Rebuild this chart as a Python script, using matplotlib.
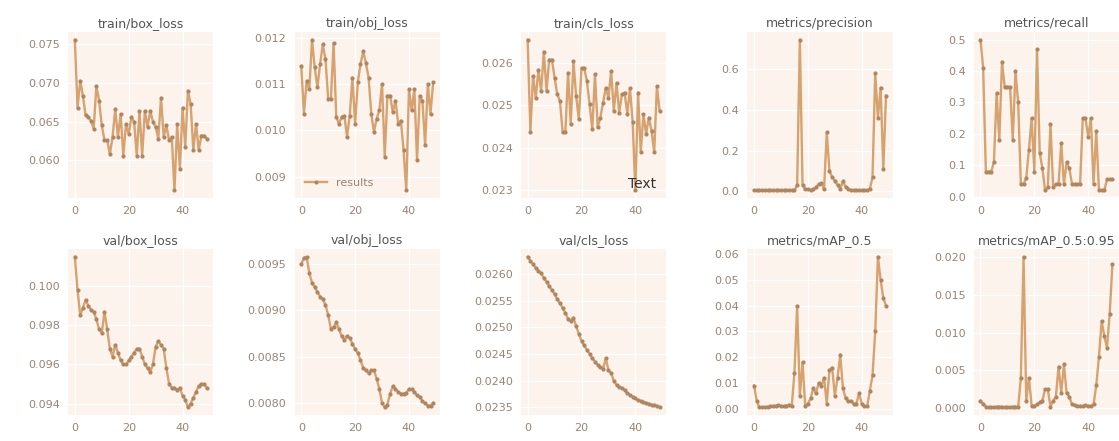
import matplotlib
matplotlib.use('Agg')
import matplotlib.pyplot as plt
import numpy as np

epochs = np.arange(50)

titles = ['train/box_loss', 'train/obj_loss', 'train/cls_loss', 'metrics/precision', 'metrics/recall',
          'val/box_loss', 'val/obj_loss', 'val/cls_loss', 'metrics/mAP_0.5', 'metrics/mAP_0.5:0.95']

train_box_loss = [0.0756, 0.0668, 0.0703, 0.0683, 0.0658, 0.0656, 0.0651, 0.0641, 0.0696, 0.0677,
                  0.0645, 0.0626, 0.0626, 0.0608, 0.0630, 0.0666, 0.0630, 0.0660, 0.0606, 0.0647,
                  0.0634, 0.0656, 0.0650, 0.0606, 0.0664, 0.0606, 0.0664, 0.0643, 0.0664, 0.0650,
                  0.0643, 0.0628, 0.0681, 0.0630, 0.0645, 0.0626, 0.0630, 0.0561, 0.0647, 0.0589,
                  0.0668, 0.0617, 0.0690, 0.0673, 0.0613, 0.0647, 0.0613, 0.0632, 0.0632, 0.0628]

train_obj_loss = [0.01139, 0.01036, 0.01107, 0.01089, 0.01196, 0.01136, 0.01093, 0.01143, 0.01186, 0.01154,
                  0.01068, 0.01068, 0.01189, 0.01029, 0.01014, 0.01029, 0.01032, 0.00986, 0.01032, 0.01114,
                  0.01014, 0.01104, 0.01143, 0.01171, 0.01146, 0.01114, 0.01036, 0.00996, 0.01025, 0.01043,
                  0.01100, 0.00943, 0.01075, 0.01075, 0.01039, 0.01064, 0.01014, 0.01021, 0.00957, 0.00870,
                  0.01089, 0.01043, 0.01089, 0.00936, 0.01075, 0.01064, 0.00968, 0.01100, 0.01036, 0.01104]

train_cls_loss = [0.02655, 0.02436, 0.02569, 0.02518, 0.02584, 0.02534, 0.02627, 0.02534, 0.02608, 0.02608,
                  0.02565, 0.02526, 0.02510, 0.02436, 0.02436, 0.02577, 0.02455, 0.02604, 0.02522, 0.02467,
                  0.02588, 0.02588, 0.02557, 0.02502, 0.02444, 0.02573, 0.02448, 0.02471, 0.02506, 0.02541,
                  0.02518, 0.02580, 0.02487, 0.02553, 0.02483, 0.02526, 0.02530, 0.02480, 0.02540, 0.02460,
                  0.02299, 0.02530, 0.02389, 0.02479, 0.02432, 0.02471, 0.02440, 0.02389, 0.02545, 0.02487]

precision = [0.005, 0.004, 0.004, 0.004, 0.004, 0.004, 0.004, 0.004, 0.004, 0.004,
             0.004, 0.004, 0.004, 0.004, 0.004, 0.004, 0.030, 0.745, 0.030, 0.010,
             0.010, 0.005, 0.010, 0.020, 0.035, 0.040, 0.010, 0.290, 0.100, 0.070,
             0.050, 0.030, 0.010, 0.050, 0.020, 0.010, 0.005, 0.005, 0.005, 0.005,
             0.005, 0.005, 0.005, 0.010, 0.070, 0.580, 0.360, 0.510, 0.110, 0.470]

recall = [0.50, 0.41, 0.08, 0.08, 0.08, 0.11, 0.33, 0.18, 0.43, 0.35,
          0.35, 0.35, 0.18, 0.40, 0.30, 0.04, 0.04, 0.06, 0.15, 0.25,
          0.08, 0.47, 0.14, 0.09, 0.02, 0.03, 0.23, 0.03, 0.04, 0.04,
          0.17, 0.04, 0.11, 0.09, 0.04, 0.04, 0.04, 0.04, 0.25, 0.25,
          0.19, 0.25, 0.04, 0.21, 0.02, 0.02, 0.02, 0.055, 0.055, 0.055]

val_box_loss = [0.1015, 0.0998, 0.0985, 0.0989, 0.0993, 0.0990, 0.0988, 0.0987, 0.0983, 0.0978,
                0.0976, 0.0987, 0.0978, 0.0968, 0.0964, 0.0970, 0.0966, 0.0962, 0.0960, 0.0960,
                0.0962, 0.0964, 0.0966, 0.0968, 0.0968, 0.0964, 0.0960, 0.0958, 0.0956, 0.0960,
                0.0969, 0.0972, 0.0970, 0.0968, 0.0958, 0.0950, 0.0948, 0.0948, 0.0947, 0.0948,
                0.0944, 0.0942, 0.0938, 0.0940, 0.0943, 0.0946, 0.0949, 0.0950, 0.0950, 0.0948]

val_obj_loss = [0.00950, 0.00957, 0.00958, 0.00940, 0.00930, 0.00925, 0.00920, 0.00915, 0.00912, 0.00906,
                0.00895, 0.00880, 0.00882, 0.00887, 0.00880, 0.00872, 0.00868, 0.00872, 0.00870, 0.00864,
                0.00858, 0.00854, 0.00846, 0.00838, 0.00835, 0.00832, 0.00835, 0.00835, 0.00826, 0.00815,
                0.00800, 0.00795, 0.00798, 0.00810, 0.00818, 0.00815, 0.00812, 0.00810, 0.00810, 0.00811,
                0.00815, 0.00815, 0.00812, 0.00808, 0.00806, 0.00802, 0.00800, 0.00797, 0.00797, 0.00800]

val_cls_loss = [0.02632, 0.02625, 0.02618, 0.02611, 0.02606, 0.02601, 0.02592, 0.02585, 0.02577, 0.02569,
                0.02562, 0.02553, 0.02545, 0.02536, 0.02527, 0.02516, 0.02512, 0.02518, 0.02502, 0.02488,
                0.02474, 0.02466, 0.02458, 0.02450, 0.02442, 0.02436, 0.02430, 0.02426, 0.02422, 0.02442,
                0.02420, 0.02414, 0.02400, 0.02392, 0.02389, 0.02386, 0.02382, 0.02377, 0.02373, 0.02370,
                0.02367, 0.02364, 0.02362, 0.02360, 0.02358, 0.02357, 0.02355, 0.02354, 0.02353, 0.02350]

map_05 = [0.009, 0.003, 0.0005, 0.0005, 0.0005, 0.0008, 0.0010, 0.0010, 0.0012, 0.0015,
          0.0010, 0.0010, 0.0012, 0.0015, 0.0010, 0.014, 0.040, 0.005, 0.018, 0.001,
          0.002, 0.004, 0.008, 0.006, 0.010, 0.009, 0.012, 0.002, 0.015, 0.016,
          0.005, 0.012, 0.021, 0.008, 0.004, 0.003, 0.003, 0.002, 0.002, 0.006,
          0.002, 0.001, 0.001, 0.007, 0.013, 0.030, 0.059, 0.050, 0.043, 0.040]

map_05_095 = [0.0010, 0.0006, 0.0002, 0.0001, 0.0001, 0.0001, 0.0002, 0.0002, 0.0002, 0.0001,
              0.0001, 0.0001, 0.0002, 0.0002, 0.0001, 0.0040, 0.0200, 0.0010, 0.0040, 0.0003,
              0.0003, 0.0005, 0.0008, 0.0010, 0.0025, 0.0025, 0.0002, 0.0010, 0.0015, 0.0055,
              0.0020, 0.0058, 0.0020, 0.0015, 0.0005, 0.0004, 0.0003, 0.0003, 0.0003, 0.0004,
              0.0003, 0.0003, 0.0005, 0.0030, 0.0068, 0.0115, 0.0095, 0.0080, 0.0125, 0.0190]

series = [train_box_loss, train_obj_loss, train_cls_loss, precision, recall,
          val_box_loss, val_obj_loss, val_cls_loss, map_05, map_05_095]

plt.rcParams.update({
    'axes.facecolor': '#fcf3ed',
    'axes.edgecolor': 'white',
    'axes.grid': True,
    'grid.color': 'white',
    'grid.linewidth': 0.9,
    'xtick.color': '#9a8474',
    'ytick.color': '#9a8474',
    'xtick.labelsize': 8,
    'ytick.labelsize': 8,
    'font.family': 'DejaVu Sans',
})

line_color = '#d6a270'
marker_color = '#b08660'

fig, axes = plt.subplots(2, 5, figsize=(11.19, 4.41), dpi=100)
fig.subplots_adjust(left=0.061, right=1.0, top=0.927, bottom=0.059, wspace=0.56, hspace=0.31)

for ax, title, values in zip(axes.ravel(), titles, series):
    ax.plot(epochs, values, color=line_color, marker='.', markersize=4,
            markerfacecolor=marker_color, markeredgecolor=marker_color, linewidth=1.7, label='results')
    ax.set_title(title, fontsize=9, color='#555555', pad=4)
    ax.set_xticks([0, 20, 40])
    for s in ax.spines.values():
        s.set_visible(False)
    ax.tick_params(length=0, pad=6)

leg = axes[0, 1].legend(loc='lower left', frameon=False, fontsize=8)
for t in leg.get_texts():
    t.set_color('#9a8474')

axes[0, 2].text(0.74, 0.06, 'Text', transform=axes[0, 2].transAxes, fontsize=10, color='#333333')

fig.savefig('out.png', dpi=100)
